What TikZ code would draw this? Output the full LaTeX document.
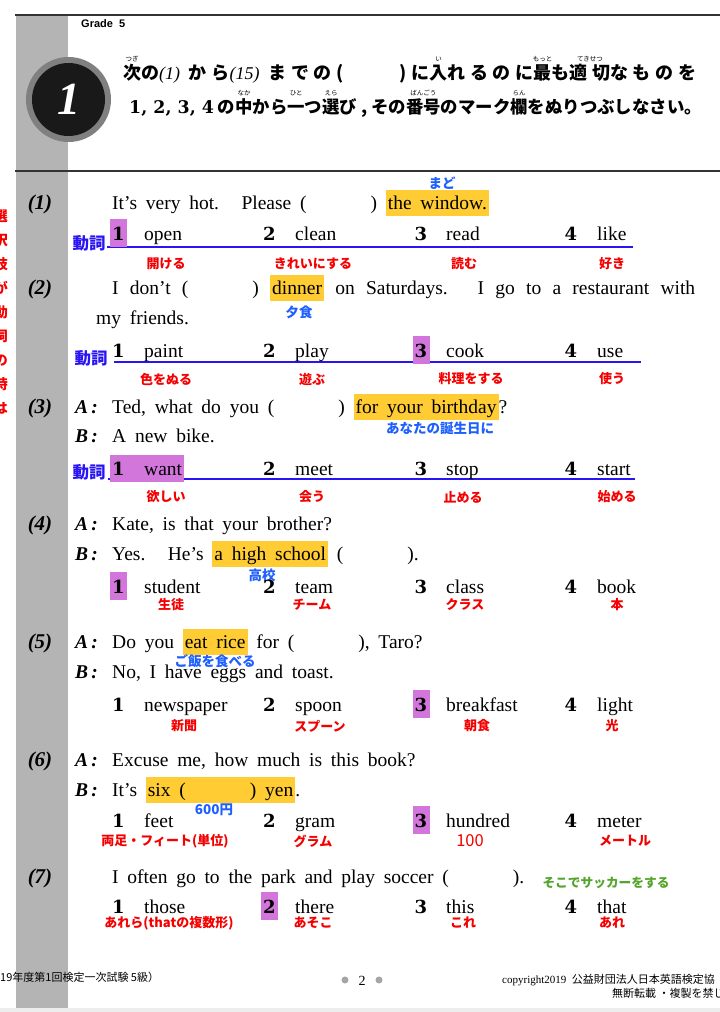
\documentclass[tikz,border=0pt]{standalone}
\usepackage{fontspec}
\usepackage{xcolor}
\usepackage{tikz}
\usetikzlibrary{positioning}
\setmainfont{Liberation Serif}
\newfontfamily\jp{Noto Sans CJK JP}
\newfontfamily\jpwide{Noto Sans CJK JP}[LetterSpace=26]
\newfontfamily\numfont{DejaVu Serif}
\newfontfamily\hdfont{Liberation Sans}
\definecolor{bandgray}{RGB}{180,180,180}
\definecolor{ringgray}{RGB}{128,128,128}
\definecolor{hl}{RGB}{255,204,51}
\definecolor{pk}{RGB}{210,118,220}
\definecolor{ublue}{RGB}{40,20,245}
\definecolor{jblue}{RGB}{30,95,255}
\definecolor{jred}{RGB}{245,0,0}
\definecolor{jgreen}{RGB}{85,165,45}
\definecolor{dotgray}{RGB}{165,165,165}
\newcommand{\engsize}{\fontsize{19.5}{22}\selectfont\spaceskip=.45em plus .3em\relax}
\newcommand{\hl}[1]{{\fboxsep=0pt\colorbox{hl}{\rule[-7pt]{0pt}{26pt}\hspace{2pt}#1\hspace{2pt}}}}
\newcommand{\blank}{(\hspace{64pt})}
\newcommand{\furi}[2]{\setbox0\hbox{#1}\hbox to\wd0{\hss\raisebox{1.0em}[0pt][0pt]{\jp\mdseries\fontsize{6.5}{6.5}\selectfont #2}\hss}\kern-\wd0\box0}

\begin{document}
\begin{tikzpicture}[x=1pt,y=-1pt]
	\tikzstyle{eng}=[anchor=base west,inner sep=0pt,font=\engsize]
	\tikzstyle{qlabel}=[anchor=base,inner sep=0pt,font=\fontsize{21}{21}\selectfont\bfseries\itshape]
	\tikzstyle{ab}=[anchor=base west,inner sep=0pt,font=\fontsize{19.5}{20}\selectfont\bfseries\itshape]
	\tikzstyle{num}=[anchor=base,inner sep=0pt,font=\numfont\bfseries\fontsize{18}{18}\selectfont]
	\tikzstyle{pick}=[num,fill=pk,minimum width=17pt,minimum height=28pt]
	\tikzstyle{word}=[anchor=base west,inner sep=0pt,font=\engsize]
	\tikzstyle{tr}=[inner sep=0pt,text=jred,font=\jp\bfseries\fontsize{13}{13}\selectfont]
	\tikzstyle{note}=[inner sep=0pt,text=jblue,font=\jp\bfseries\fontsize{13.5}{13.5}\selectfont]
	\tikzstyle{verb}=[inner sep=0pt,text=ublue,font=\jp\bfseries\fontsize{16.5}{16.5}\selectfont]
	\tikzstyle{uline}=[ublue,line width=2.2pt]
	\useasboundingbox (0,0) rectangle (720,1012);
	\fill[white] (0,0) rectangle (720,1012);
	\fill[bandgray] (16,15) rectangle (68,1008);
	\fill[black!7] (0,1008) rectangle (720,1012);
	\draw[black!80,line width=1.2pt] (15,15) -- (720,15);
	\draw[black!80,line width=1.2pt] (15,171) -- (720,171);
	% header
	\fill[ringgray] (68.5,99.5) circle[radius=42.5pt];
	\fill[black!90] (68.5,99.5) circle[radius=36.5pt];
	\node[text=white,font=\fontsize{46}{46}\selectfont\bfseries\itshape] (big) at (68.5,99.5) {1};
	\node[anchor=west,inner sep=0pt,font=\hdfont\bfseries\fontsize{11}{11}\selectfont] (grade) at (81,24) {Grade\ \ 5};
	\node[anchor=base west,inner sep=0pt,font=\jpwide\bfseries\fontsize{18}{18}\selectfont] (inst1) at (123,79)
		{\furi{次}{つぎ}の{\rmfamily\mdseries\itshape (1)} から{\rmfamily\mdseries\itshape (15)} までの(\hspace{56pt})に\furi{入}{い}れるのに\furi{最}{もっと}も\furi{適切}{てきせつ}なものを};
	\node[anchor=base west,inner sep=0pt,font=\jp\bfseries\fontsize{17.4}{17.4}\selectfont] (inst2) at (129,113)
		{{\numfont 1, 2, 3, 4} の\furi{中}{なか}から\furi{一}{ひと}つ\furi{選}{えら}び , その\furi{番号}{ばんごう}のマーク\furi{欄}{らん}をぬりつぶしなさい。};
	\node[inner sep=0pt,text=jred,font=\jp\bfseries\fontsize{14}{24}\selectfont,align=center] (side) at (1,312) {選\\択\\肢\\が\\動\\詞\\の\\時\\は};
	% question labels
	\node[qlabel] (q1) at (40,209) {(1)};
	\node[qlabel] (q2) at (40,294) {(2)};
	\node[qlabel] (q3) at (40,413) {(3)};
	\node[qlabel] (q4) at (40,530) {(4)};
	\node[qlabel] (q5) at (40,648) {(5)};
	\node[qlabel] (q6) at (40,766) {(6)};
	\node[qlabel] (q7) at (40,883) {(7)};
	% sentences
	\node[eng] (s1) at (112,209) {It’s very hot.\hspace{12pt} Please \blank\ \hl{the window.}};
	\node[eng] (s2a) at (112,294) {\makebox[583pt][s]{I don’t \blank\ \hl{dinner} on Saturdays.\hspace{12pt} I go to a restaurant with}};
	\node[eng] (s2b) at (96,324) {my friends.};
	\node[ab] (a3) at (75,413) {A\,:};
	\node[eng] (s3a) at (112,413) {Ted, what do you \blank\ \hl{for your birthday}?};
	\node[ab] (b3) at (75,442) {B\,:};
	\node[eng] (s3b) at (112,442) {A new bike.};
	\node[ab] (a4) at (75,530) {A\,:};
	\node[eng] (s4a) at (112,530) {Kate, is that your brother?};
	\node[ab] (b4) at (75,560) {B\,:};
	\node[eng] (s4b) at (112,560) {Yes.\hspace{12pt} He’s \hl{a high school} \blank.};
	\node[ab] (a5) at (75,648) {A\,:};
	\node[eng] (s5a) at (112,648) {Do you \hl{eat rice} for \blank, Taro?};
	\node[ab] (b5) at (75,678) {B\,:};
	\node[eng] (s5b) at (112,678) {No, I have eggs and toast.};
	\node[ab] (a6) at (75,766) {A\,:};
	\node[eng] (s6a) at (112,766) {Excuse me, how much is this book?};
	\node[ab] (b6) at (75,796) {B\,:};
	\node[eng] (s6b) at (112,796) {It’s \hl{six \blank\ yen}.};
	\node[eng] (s7) at (112,883) {I often go to the park and play soccer \blank.};
	% notes
	\node[note] (nb1) at (442,183) {まど};
	\node[note] (nb2) at (299,312) {夕食};
	\node[note] (nb3) at (440,428) {あなたの誕生日に};
	\node[note] (nb4) at (262,575) {高校};
	\node[note] (nb5) at (215,661) {ご飯を食べる};
	\node[note] (nb6) at (214,810) {600円};
	\node[note,text=jgreen,font=\jp\bfseries\fontsize{12.7}{12.7}\selectfont] (ng7) at (606,883) {そこでサッカーをする};
	% verb rows
	\node[verb] (v1) at (89,243) {動詞};
	\node[verb] (v2) at (91,358) {動詞};
	\node[verb] (v3) at (89,472) {動詞};
	\draw[uline] (107,247) -- (633,247);
	\draw[uline] (114,362) -- (641,362);
	\draw[uline] (108,479) -- (635,479);
	\fill[pk] (110,455) rectangle (184,482);
	% choices (1)
	\node[pick] (n11) at (118.5,240) {1};
	\node[word] (w11) at (144,240) {open};
	\node[num] (n12) at (269.5,240) {2};
	\node[word] (w12) at (295,240) {clean};
	\node[num] (n13) at (421,240) {3};
	\node[word] (w13) at (446,240) {read};
	\node[num] (n14) at (571,240) {4};
	\node[word] (w14) at (597,240) {like};
	\node[tr] (t11) at (166,264) {開ける};
	\node[tr] (t12) at (313,264) {きれいにする};
	\node[tr] (t13) at (464,264) {読む};
	\node[tr] (t14) at (612,264) {好き};
	% choices (2)
	\node[num] (n21) at (118.5,357) {1};
	\node[word] (w21) at (144,357) {paint};
	\node[num] (n22) at (269.5,357) {2};
	\node[word] (w22) at (295,357) {play};
	\node[pick] (n23) at (421,357) {3};
	\node[word] (w23) at (446,357) {cook};
	\node[num] (n24) at (571,357) {4};
	\node[word] (w24) at (597,357) {use};
	\node[tr] (t21) at (166,379) {色をぬる};
	\node[tr] (t22) at (312,379) {遊ぶ};
	\node[tr] (t23) at (471,379) {料理をする};
	\node[tr] (t24) at (612,379) {使う};
	% choices (3)
	\node[num] (n31) at (118.5,475) {1};
	\node[word] (w31) at (144,475) {want};
	\node[num] (n32) at (269.5,475) {2};
	\node[word] (w32) at (295,475) {meet};
	\node[num] (n33) at (421,475) {3};
	\node[word] (w33) at (446,475) {stop};
	\node[num] (n34) at (571,475) {4};
	\node[word] (w34) at (597,475) {start};
	\node[tr] (t31) at (166,497) {欲しい};
	\node[tr] (t32) at (312,497) {会う};
	\node[tr] (t33) at (463,497) {止める};
	\node[tr] (t34) at (617,497) {始める};
	% choices (4)
	\node[pick] (n41) at (118.5,593) {1};
	\node[word] (w41) at (144,593) {student};
	\node[num] (n42) at (269.5,593) {2};
	\node[word] (w42) at (295,593) {team};
	\node[num] (n43) at (421,593) {3};
	\node[word] (w43) at (446,593) {class};
	\node[num] (n44) at (571,593) {4};
	\node[word] (w44) at (597,593) {book};
	\node[tr] (t41) at (171,605) {生徒};
	\node[tr] (t42) at (312,605) {チーム};
	\node[tr] (t43) at (465,605) {クラス};
	\node[tr] (t44) at (617,605) {本};
	% choices (5)
	\node[num] (n51) at (118.5,711) {1};
	\node[word] (w51) at (144,711) {newspaper};
	\node[num] (n52) at (269.5,711) {2};
	\node[word] (w52) at (295,711) {spoon};
	\node[pick] (n53) at (421,711) {3};
	\node[word] (w53) at (446,711) {breakfast};
	\node[num] (n54) at (571,711) {4};
	\node[word] (w54) at (597,711) {light};
	\node[tr] (t51) at (184,726) {新聞};
	\node[tr] (t52) at (320,726) {スプーン};
	\node[tr] (t53) at (477,726) {朝食};
	\node[tr] (t54) at (612,726) {光};
	% choices (6)
	\node[num] (n61) at (118.5,827) {1};
	\node[word] (w61) at (144,827) {feet};
	\node[num] (n62) at (269.5,827) {2};
	\node[word] (w62) at (295,827) {gram};
	\node[pick] (n63) at (421,827) {3};
	\node[word] (w63) at (446,827) {hundred};
	\node[num] (n64) at (571,827) {4};
	\node[word] (w64) at (597,827) {meter};
	\node[tr] (t61) at (165,841) {両足・フィート(単位)};
	\node[tr] (t62) at (313,841) {グラム};
	\node[tr,font=\jp\fontsize{16.5}{16.5}\selectfont] (t63) at (470,841) {100};
	\node[tr] (t64) at (625,841) {メートル};
	% choices (7)
	\node[num] (n71) at (118.5,913) {1};
	\node[word] (w71) at (144,913) {those};
	\node[pick] (n72) at (269.5,913) {2};
	\node[word] (w72) at (295,913) {there};
	\node[num] (n73) at (421,913) {3};
	\node[word] (w73) at (446,913) {this};
	\node[num] (n74) at (571,913) {4};
	\node[word] (w74) at (597,913) {that};
	\node[tr] (t71) at (169,923) {あれら(thatの複数形)};
	\node[tr] (t72) at (313,923) {あそこ};
	\node[tr] (t73) at (463,923) {これ};
	\node[tr] (t74) at (612,923) {あれ};
	% footer
	\node[anchor=base west,inner sep=0pt,font=\jp\fontsize{11}{11}\selectfont] (ft1) at (0,981) {19年度第1回検定一次試験\ 5級）};
	\fill[dotgray] (345,980) circle[radius=3.5pt];
	\fill[dotgray] (379,980) circle[radius=3.5pt];
	\node[anchor=base,inner sep=0pt,font=\fontsize{14}{14}\selectfont] (pg) at (362,985) {2};
	\node[anchor=base west,inner sep=0pt,font=\fontsize{11}{11}\selectfont] (ft2) at (502,983) {copyright2019\ \ {\jp 公益財団法人日本英語検定協}};
	\node[anchor=base west,inner sep=0pt,font=\jp\fontsize{11}{11}\selectfont] (ft3) at (612,997) {無断転載 ・複製を禁じ};
\end{tikzpicture}
\end{document}
